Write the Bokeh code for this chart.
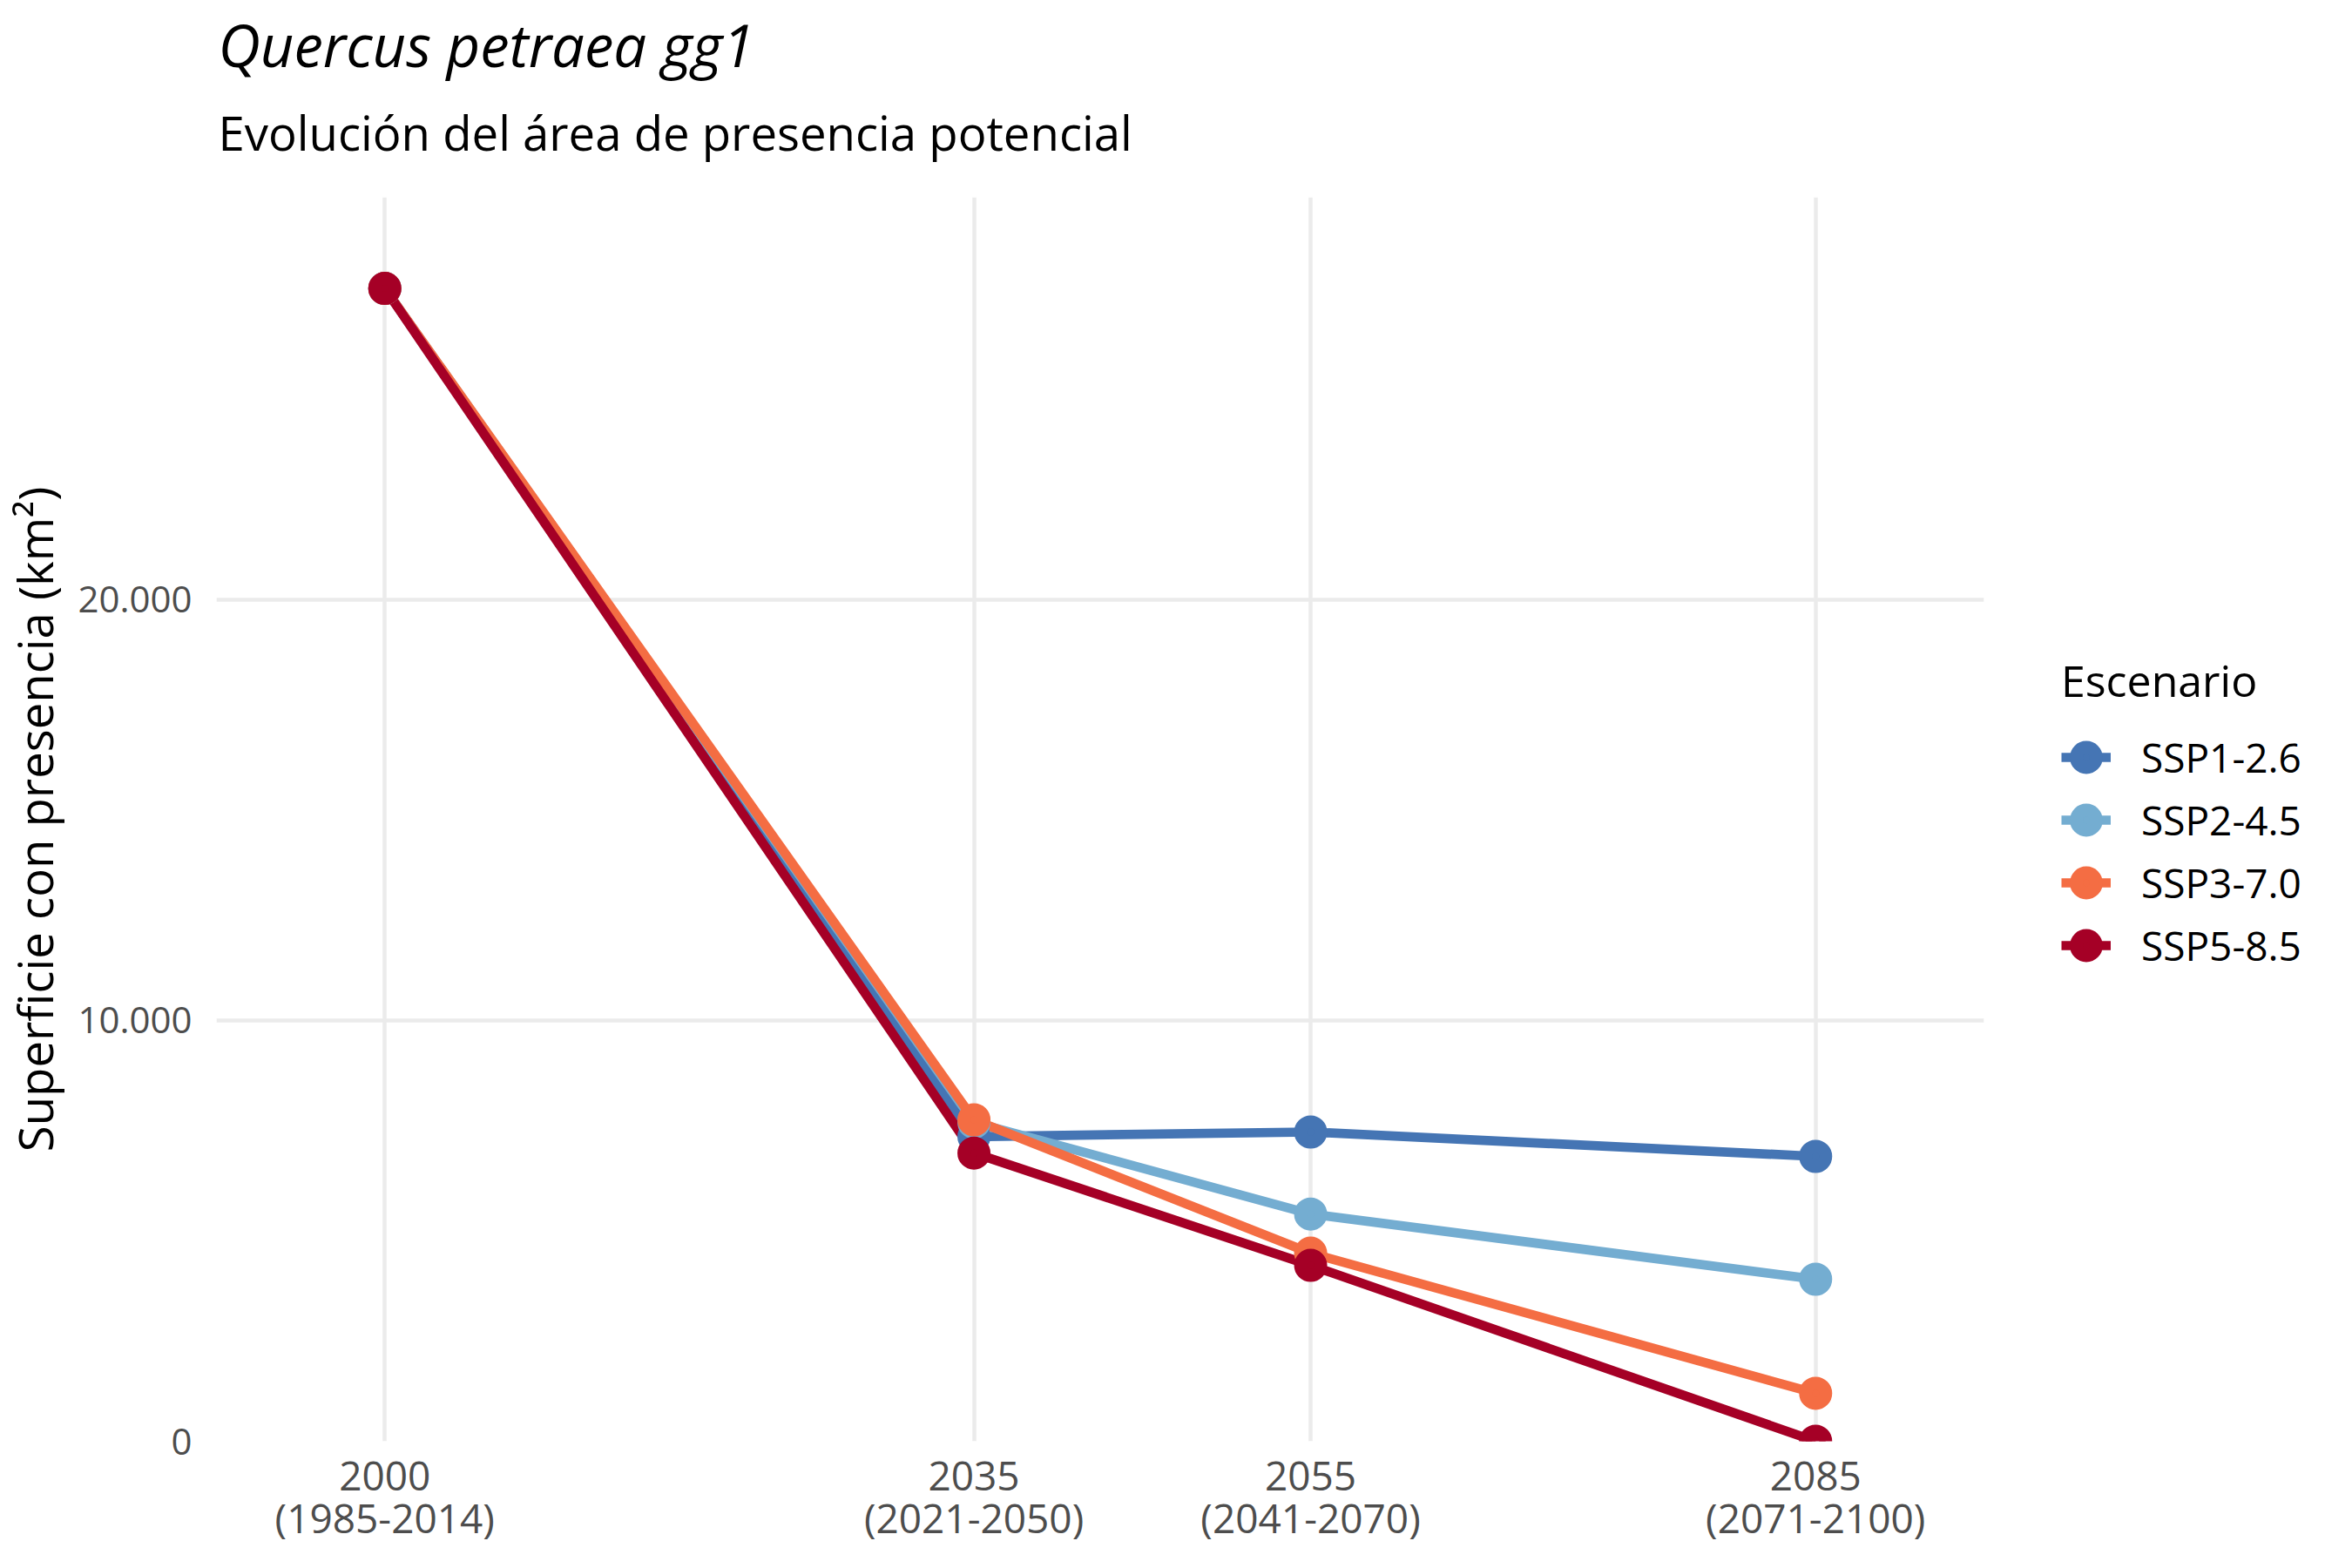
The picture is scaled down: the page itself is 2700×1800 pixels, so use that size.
from bokeh.plotting import figure
from bokeh.models import Range1d, FixedTicker, Legend, LegendItem, Title
from bokeh.embed import file_html
from bokeh.resources import INLINE

# ---- data ----
periods = [2000, 2035, 2055, 2085]
period_labels = ["2000\n(1985-2014)", "2035\n(2021-2050)", "2055\n(2041-2070)", "2085\n(2071-2100)"]
scenarios = ["SSP1-2.6", "SSP2-4.5", "SSP3-7.0", "SSP5-8.5"]
colors = ["#4575B4", "#74ADD1", "#F46D43", "#A50026"]
ssp126 = [27400, 7240, 7350, 6770]
ssp245 = [27400, 7580, 5400, 3850]
ssp370 = [27400, 7640, 4470, 1140]
ssp585 = [27400, 6850, 4180, 0]
y_ticks = [0, 10000, 20000]
y_tick_labels = ["0", "10.000", "20.000"]

title_text = "Quercus petraea gg1"
subtitle_text = "Evolución del área de presencia potencial"
y_title = "Superficie con presencia (km²)"
legend_title = "Escenario"

series = [ssp126, ssp245, ssp370, ssp585]
FONT = "Open Sans"

p = figure(
    frame_width=2029, frame_height=1428,
    min_border_left=245, min_border_right=410, min_border_top=226, min_border_bottom=130,
    x_range=Range1d(1990, 2095), y_range=Range1d(0, 29565),
    output_backend="svg", toolbar_location=None, tools="",
    background_fill_color="white", border_fill_color="white",
)
p.outline_line_color = None

# titles: the first added sits closest to the frame
p.add_layout(Title(text=" ", text_font=FONT, text_font_size="1px", standoff=21), "above")
p.add_layout(Title(text=subtitle_text, text_font=FONT, text_font_size="54.5px",
                   text_font_style="normal", text_color="black", align="left",
                   offset=2, standoff=27), "above")
p.add_layout(Title(text=title_text, text_font=FONT, text_font_size="67px",
                   text_font_style="italic", text_color="black", align="left",
                   offset=2, standoff=5), "above")

# axes
xa = p.xaxis[0]
xa.ticker = FixedTicker(ticks=periods)
xa.major_label_overrides = {k: v for k, v in zip(periods, period_labels)}
ya = p.yaxis[0]
ya.ticker = FixedTicker(ticks=y_ticks)
ya.major_label_overrides = {k: v for k, v in zip(y_ticks, y_tick_labels)}
for ax in (xa, ya):
    ax.axis_line_color = None
    ax.major_tick_line_color = None
    ax.minor_tick_line_color = None
    ax.major_tick_in = 0
    ax.major_tick_out = 0
    ax.major_label_text_font = FONT
    ax.major_label_text_color = "#4D4D4D"
xa.major_label_text_font_size = "46px"
xa.major_label_text_line_height = 0.8
xa.major_label_standoff = 7
ya.major_label_text_font_size = "42px"
ya.major_label_standoff = 28
ya.axis_label = y_title
ya.axis_label_text_font = FONT
ya.axis_label_text_font_size = "54.5px"
ya.axis_label_text_font_style = "normal"
ya.axis_label_text_color = "black"
ya.axis_label_standoff = 9

# grid
p.xgrid.ticker = FixedTicker(ticks=periods)
p.ygrid.ticker = FixedTicker(ticks=y_ticks)
for g in (p.xgrid[0], p.ygrid[0]):
    g.grid_line_color = "#EBEBEB"
    g.grid_line_width = 4.5

# lines first, then points
line_rs = []
for vals, c in zip(series, colors):
    line_rs.append(p.line(periods, vals, line_color=c, line_width=10.7, line_join="round"))
pt_rs = []
for vals, c in zip(series, colors):
    pt_rs.append(p.scatter(periods, vals, size=23, fill_color=c, line_color=c, line_width=15))

items = [LegendItem(label=s, renderers=[lr, pr]) for s, lr, pr in zip(scenarios, line_rs, pt_rs)]
legend = Legend(
    items=items, title=legend_title,
    location=(89, 533),
    glyph_width=57, glyph_height=72, label_height=72, spacing=0,
    label_standoff=35, padding=0, margin=0,
    label_text_font=FONT, label_text_font_size="46px", label_text_color="black",
    title_text_font=FONT, title_text_font_size="50px", title_text_font_style="normal",
    title_text_color="black", title_standoff=18,
    background_fill_alpha=0, border_line_alpha=0,
)
p.add_layout(legend, "right")

open("out.html", "w").write(file_html(p, INLINE))
